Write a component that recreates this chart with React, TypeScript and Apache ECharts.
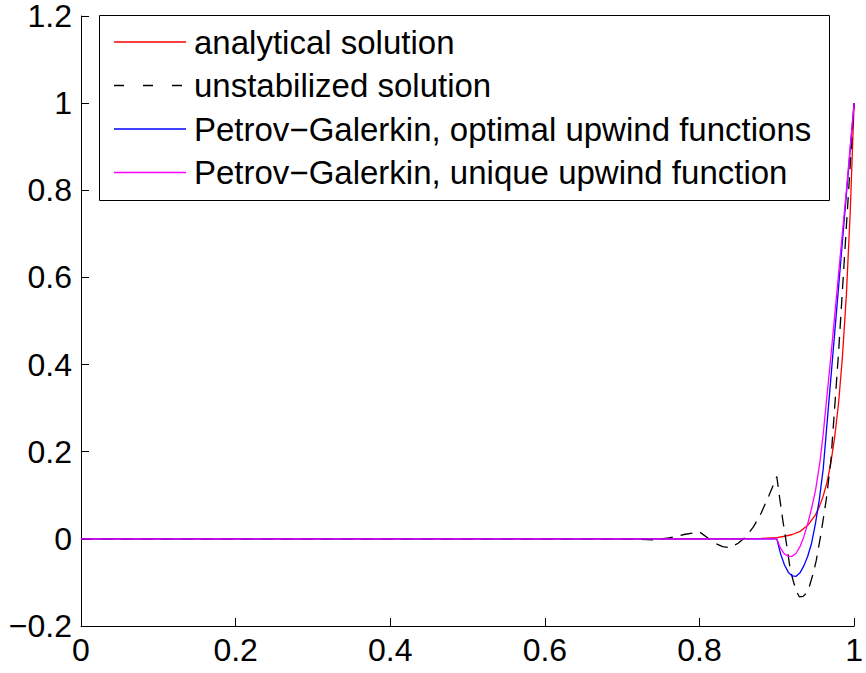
import React, { useEffect, useRef } from "react";
import * as echarts from "echarts";

// Tick labels
const xTickLabels = ["0", "0.2", "0.4", "0.6", "0.8", "1"];
const yTickLabels = ["\u22120.2", "0", "0.2", "0.4", "0.6", "0.8", "1", "1.2"];

// Legend entries
const seriesNames = [
  "analytical solution",
  "unstabilized solution",
  "Petrov\u2212Galerkin, optimal upwind functions",
  "Petrov\u2212Galerkin, unique upwind function",
];

// Analytical solution
const xAnalytical = [0, 0.5, 0.8, 0.85, 0.88, 0.9, 0.91, 0.92, 0.93, 0.94, 0.95, 0.955, 0.96, 0.965, 0.97, 0.975, 0.98, 0.985, 0.99, 0.995, 1];
const yAnalytical = [0, 0, 0, 0.0002, 0.001, 0.003, 0.006, 0.01, 0.017, 0.031, 0.055, 0.074, 0.098, 0.13, 0.175, 0.235, 0.313, 0.42, 0.56, 0.75, 1];

// Unstabilized Galerkin solution
const xUnstab = [0, 0.3, 0.6, 0.7, 0.72, 0.74, 0.76, 0.78, 0.8, 0.81, 0.82, 0.83, 0.84, 0.85, 0.86, 0.87, 0.88, 0.89, 0.9, 0.904, 0.908, 0.912, 0.917, 0.921, 0.925, 0.929, 0.934, 0.938, 0.942, 0.947, 0.951, 0.957, 0.964, 0.97, 0.98, 0.988, 1];
const yUnstab = [0, 0, 0, 0, -0.001, -0.002, 0.002, 0.01, 0.016, 0.003, -0.01, -0.018, -0.02, -0.01, 0.005, 0.028, 0.06, 0.1, 0.143, 0.09, 0.04, -0.005, -0.065, -0.095, -0.118, -0.133, -0.132, -0.125, -0.11, -0.08, -0.05, 0.01, 0.09, 0.18, 0.43, 0.66, 1];

// Petrov-Galerkin, optimal upwind functions
const xOptimal = [0, 0.3, 0.6, 0.9, 0.905, 0.91, 0.915, 0.92, 0.925, 0.93, 0.935, 0.94, 0.945, 0.95, 0.955, 0.96, 0.97, 0.98, 0.99, 1];
const yOptimal = [0, 0, 0, 0, -0.035, -0.06, -0.077, -0.085, -0.086, -0.078, -0.062, -0.04, -0.01, 0.035, 0.09, 0.16, 0.37, 0.58, 0.79, 1];

// Petrov-Galerkin, unique upwind function
const xUnique = [0, 0.3, 0.6, 0.9, 0.905, 0.91, 0.915, 0.92, 0.925, 0.93, 0.935, 0.94, 0.945, 0.95, 0.956, 0.96, 0.97, 0.98, 0.99, 1];
const yUnique = [0, 0, 0, 0, -0.022, -0.035, -0.04, -0.04, -0.033, -0.018, 0.005, 0.035, 0.07, 0.11, 0.179, 0.24, 0.42, 0.61, 0.8, 1];

const colors = ["#ff0000", "#000000", "#0000ff", "#ff00ff"];
const dashes: (number[] | "solid")[] = ["solid", [12, 8], "solid", "solid"];

const FONT = "'Liberation Sans', Arial, Helvetica, sans-serif";

const zip = (xs: number[], ys: number[]) => xs.map((x, i) => [x, ys[i]]);

export default function App() {
  const ref = useRef<HTMLDivElement>(null);

  useEffect(() => {
    document.body.style.margin = "0";
    if (!ref.current) return;
    const chart = echarts.init(ref.current, undefined, { renderer: "svg" });

    const data = [
      zip(xAnalytical, yAnalytical),
      zip(xUnstab, yUnstab),
      zip(xOptimal, yOptimal),
      zip(xUnique, yUnique),
    ];

    const legendTop = 15;
    const rowY = [42, 85.5, 129, 172.5];
    const legendGraphics: any[] = [
      {
        type: "rect",
        shape: { x: 99.5, y: legendTop + 0.5, width: 730, height: 185 },
        style: { fill: "#ffffff", stroke: "#000000", lineWidth: 1 },
        z: 10,
      },
    ];
    seriesNames.forEach((name, i) => {
      legendGraphics.push({
        type: "line",
        shape: { x1: 114, y1: rowY[i], x2: 186, y2: rowY[i] },
        style: {
          stroke: colors[i],
          lineWidth: 1.3,
          lineDash: dashes[i] === "solid" ? null : [10, 19],
        },
        z: 11,
      });
      legendGraphics.push({
        type: "text",
        x: 194,
        y: rowY[i],
        style: {
          text: name,
          font: `33px ${FONT}`,
          fill: "#000000",
          verticalAlign: "middle",
          align: "left",
        },
        z: 11,
      });
    });

    chart.setOption({
      animation: false,
      backgroundColor: "#ffffff",
      grid: { left: 81, right: 6, top: 13, bottom: 47, containLabel: false },
      xAxis: {
        type: "value",
        min: 0,
        max: 1,
        interval: 0.2,
        splitLine: { show: false },
        axisLine: { show: true, onZero: false, lineStyle: { color: "#000000", width: 1 } },
        axisTick: { show: true, inside: true, length: 8, lineStyle: { color: "#000000" } },
        axisLabel: {
          color: "#000000",
          fontFamily: FONT,
          fontSize: 32,
          margin: 8,
          formatter: (v: number) => xTickLabels[Math.round(v / 0.2)] ?? "",
        },
      },
      yAxis: {
        type: "value",
        min: -0.2,
        max: 1.2,
        interval: 0.2,
        splitLine: { show: false },
        axisLine: { show: true, onZero: false, lineStyle: { color: "#000000", width: 1 } },
        axisTick: { show: true, inside: true, length: 8, lineStyle: { color: "#000000" } },
        axisLabel: {
          color: "#000000",
          fontFamily: FONT,
          fontSize: 32,
          lineHeight: 26,
          margin: 9,
          formatter: (v: number) => yTickLabels[Math.round((v + 0.2) / 0.2)] ?? "",
        },
      },
      legend: { show: false },
      series: seriesNames.map((name, i) => ({
        name,
        type: "line",
        data: data[i],
        showSymbol: false,
        symbol: "none",
        clip: true,
        lineStyle: {
          color: colors[i],
          width: 1.3,
          type: dashes[i] === "solid" ? "solid" : (dashes[i] as number[]),
        },
        z: 2 + i,
      })),
      graphic: legendGraphics,
    });

    return () => chart.dispose();
  }, []);

  return <div ref={ref} style={{ width: 866, height: 673 }} />;
}
